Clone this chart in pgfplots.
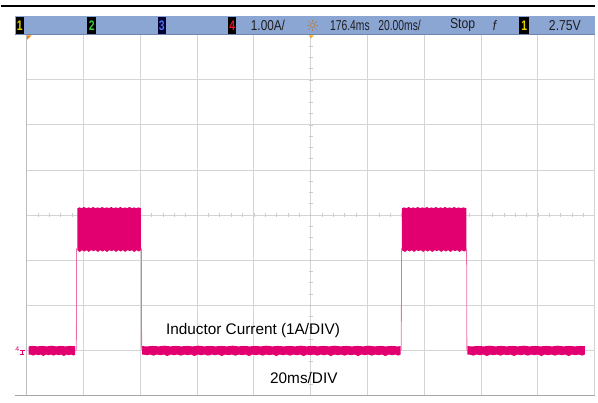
\documentclass[border=0pt]{standalone}
\usepackage{fontspec}
\setmainfont{Liberation Sans}
\usepackage{pgfplots}
\pgfplotsset{compat=1.18}
\definecolor{trace}{RGB}{226,0,112}
\definecolor{tracelt}{RGB}{238,110,172}
\definecolor{gridc}{RGB}{212,212,212}
\definecolor{barblue}{RGB}{140,166,212}
\definecolor{hdrtxt}{RGB}{30,30,30}
\begin{document}
\begin{tikzpicture}
% pixel frame (y downwards)
\begin{scope}[x=1bp,y=-1bp]
\path[use as bounding box] (0,0) rectangle (598,400);
\coordinate (ax) at (26,398);
\end{scope}

\begin{axis}[
    at={(ax)}, anchor=south west,
    scale only axis, width=572bp, height=363bp,
    xmin=0, xmax=200, ymin=-1, ymax=7,
    xtick={0,20,...,200}, ytick={-1,0,1,2,4,5,6,7},
    xticklabels={}, yticklabels={},
    major tick length=0pt,
    grid=major,
    grid style={gridc, line width=0.9bp},
    axis line style={draw=none},
]
% centre lines with small division ticks
\draw[gridc, line width=0.9bp] (axis cs:0,3) -- (axis cs:200,3);
\pgfplotsinvokeforeach{4,8,...,196}{
  \draw[gridc!80!black!60, line width=0.6bp] (axis cs:#1,2.96) -- (axis cs:#1,3.04);
}
\pgfplotsinvokeforeach{-0.75,-0.5,...,6.75}{
  \draw[gridc!80!black!60, line width=0.6bp] (axis cs:99.3,#1) -- (axis cs:100.7,#1);
}
% left screen edge
\draw[gray!85, line width=1.3bp] (axis cs:0,-1) -- (axis cs:0,7);

% baseline segments (noise band around 0 A)
\addplot[draw=none, fill=trace] coordinates {
(0.7,0.085)(2.2,0.095)(3.8,0.085)(5.5,0.095)(7.1,0.085)(8.8,0.1)(10.4,0.085)(12.0,0.095)(13.7,0.085)(15.3,0.095)(17.1,0.09)
(17.1,-0.095)(16.5,-0.12)(15.8,-0.095)(14.9,-0.11)(14.0,-0.095)(13.1,-0.13)(12.2,-0.095)(11.3,-0.11)(10.4,-0.095)(9.5,-0.12)(8.6,-0.095)(7.7,-0.11)(6.8,-0.095)(5.9,-0.13)(5.0,-0.095)(4.1,-0.11)(3.2,-0.095)(2.3,-0.12)(1.4,-0.095)(0.7,-0.1)
};
\addplot[draw=none, fill=trace] coordinates {
(40.7,0.09)(42.5,0.085)(44.5,0.095)(46.5,0.085)(48.5,0.1)(50.5,0.085)(52.5,0.095)(54.5,0.085)(56.5,0.095)(58.5,0.085)(60.5,0.1)(62.5,0.085)(64.5,0.095)(66.5,0.085)(68.5,0.095)(70.5,0.085)(72.5,0.1)(74.5,0.085)(76.5,0.095)(78.5,0.085)(80.5,0.095)(82.5,0.085)(84.5,0.1)(86.5,0.085)(88.5,0.095)(90.5,0.085)(92.5,0.095)(94.5,0.085)(96.5,0.1)(98.5,0.085)(100.5,0.095)(102.5,0.085)(104.5,0.095)(106.5,0.085)(108.5,0.1)(110.5,0.085)(112.5,0.095)(114.5,0.085)(116.5,0.095)(118.5,0.085)(120.5,0.1)(122.5,0.085)(124.5,0.095)(126.5,0.085)(128.5,0.095)(130.5,0.085)(131.7,0.09)
(131.7,-0.095)(130.8,-0.12)(129.9,-0.095)(128.7,-0.11)(127.5,-0.095)(126.3,-0.13)(125.1,-0.095)(123.9,-0.11)(122.7,-0.095)(121.5,-0.12)(120.3,-0.095)(119.1,-0.11)(117.9,-0.095)(116.7,-0.13)(115.5,-0.095)(114.3,-0.11)(113.1,-0.095)(111.9,-0.12)(110.7,-0.095)(109.5,-0.11)(108.3,-0.095)(107.1,-0.13)(105.9,-0.095)(104.7,-0.11)(103.5,-0.095)(102.3,-0.12)(101.1,-0.095)(99.9,-0.11)(98.7,-0.095)(97.5,-0.13)(96.3,-0.095)(95.1,-0.11)(93.9,-0.095)(92.7,-0.12)(91.5,-0.095)(90.3,-0.11)(89.1,-0.095)(87.9,-0.13)(86.7,-0.095)(85.5,-0.11)(84.3,-0.095)(83.1,-0.12)(81.9,-0.095)(80.7,-0.11)(79.5,-0.095)(78.3,-0.13)(77.1,-0.095)(75.9,-0.11)(74.7,-0.095)(73.5,-0.12)(72.3,-0.095)(71.1,-0.11)(69.9,-0.095)(68.7,-0.13)(67.5,-0.095)(66.3,-0.11)(65.1,-0.095)(63.9,-0.12)(62.7,-0.095)(61.5,-0.11)(60.3,-0.095)(59.1,-0.13)(57.9,-0.095)(56.7,-0.11)(55.5,-0.095)(54.3,-0.12)(53.1,-0.095)(51.9,-0.11)(50.7,-0.095)(49.5,-0.13)(48.3,-0.095)(47.1,-0.11)(45.9,-0.095)(44.7,-0.12)(43.5,-0.095)(42.3,-0.11)(41.1,-0.095)(40.7,-0.1)
};
\addplot[draw=none, fill=trace] coordinates {
(155.2,0.09)(157,0.085)(159,0.095)(161,0.085)(163,0.1)(165,0.085)(167,0.095)(169,0.085)(171,0.095)(173,0.085)(175,0.1)(177,0.085)(179,0.095)(181,0.085)(183,0.095)(185,0.085)(187,0.1)(189,0.085)(191,0.095)(193,0.085)(195,0.095)(196.5,0.09)
(196.5,-0.095)(195.6,-0.12)(194.4,-0.095)(193.2,-0.11)(192,-0.095)(190.8,-0.13)(189.6,-0.095)(188.4,-0.11)(187.2,-0.095)(186,-0.12)(184.8,-0.095)(183.6,-0.11)(182.4,-0.095)(181.2,-0.13)(180,-0.095)(178.8,-0.11)(177.6,-0.095)(176.4,-0.12)(175.2,-0.095)(174,-0.11)(172.8,-0.095)(171.6,-0.13)(170.4,-0.095)(169.2,-0.11)(168,-0.095)(166.8,-0.12)(165.6,-0.095)(164.4,-0.11)(163.2,-0.095)(162,-0.13)(160.8,-0.095)(159.6,-0.11)(158.4,-0.095)(157.2,-0.12)(156,-0.095)(155.2,-0.1)
};

% on-phases (ripple band between about 2.2 A and 3.15 A)
\addplot[draw=none, fill=trace] coordinates {
(17.9,3.15)(18.6,3.17)(19.4,3.15)(20.2,3.18)(21.0,3.15)(21.8,3.17)(22.6,3.15)(23.4,3.18)(24.2,3.15)(25.0,3.17)(25.8,3.15)(26.6,3.18)(27.4,3.15)(28.2,3.17)(29.0,3.15)(29.8,3.18)(30.6,3.15)(31.4,3.17)(32.2,3.15)(33.0,3.18)(33.8,3.15)(34.6,3.17)(35.4,3.15)(36.2,3.18)(37.0,3.15)(37.8,3.17)(38.6,3.15)(39.4,3.17)(40.2,3.15)
(40.2,2.22)(39.5,2.19)(38.7,2.22)(37.9,2.18)(37.1,2.22)(36.3,2.2)(35.5,2.22)(34.7,2.18)(33.9,2.22)(33.1,2.19)(32.3,2.22)(31.5,2.18)(30.7,2.22)(29.9,2.2)(29.1,2.22)(28.3,2.18)(27.5,2.22)(26.7,2.19)(25.9,2.22)(25.1,2.18)(24.3,2.22)(23.5,2.2)(22.7,2.22)(21.9,2.18)(21.1,2.22)(20.3,2.19)(19.5,2.22)(18.7,2.18)(17.9,2.22)
};
\addplot[draw=none, fill=trace] coordinates {
(132.1,3.15)(132.9,3.17)(133.7,3.15)(134.5,3.18)(135.3,3.15)(136.1,3.17)(136.9,3.15)(137.7,3.18)(138.5,3.15)(139.3,3.17)(140.1,3.15)(140.9,3.18)(141.7,3.15)(142.5,3.17)(143.3,3.15)(144.1,3.18)(144.9,3.15)(145.7,3.17)(146.5,3.15)(147.3,3.18)(148.1,3.15)(148.9,3.17)(149.7,3.15)(150.5,3.18)(151.3,3.15)(152.1,3.17)(152.9,3.15)(153.7,3.17)(154.8,3.15)
(154.8,2.22)(154.0,2.19)(153.2,2.22)(152.4,2.18)(151.6,2.22)(150.8,2.2)(150.0,2.22)(149.2,2.18)(148.4,2.22)(147.6,2.19)(146.8,2.22)(146.0,2.18)(145.2,2.22)(144.4,2.2)(143.6,2.22)(142.8,2.18)(142.0,2.22)(141.2,2.19)(140.4,2.22)(139.6,2.18)(138.8,2.22)(138.0,2.2)(137.2,2.22)(136.4,2.18)(135.6,2.22)(134.8,2.19)(134.0,2.22)(133.2,2.18)(132.1,2.22)
};

% switching edges
\addplot[tracelt, line width=0.8bp] coordinates {(17.1,0)(17.5,0)(17.6,2.25)(17.9,2.25)};
\addplot[tracelt, line width=0.8bp] coordinates {(40.2,2.25)(40.4,2.25)(40.5,0)(40.7,0)};
\addplot[tracelt, line width=0.8bp] coordinates {(131.7,0)(131.9,0)(132.0,2.25)(132.1,2.25)};
\addplot[tracelt, line width=0.8bp] coordinates {(154.8,2.25)(154.9,2.25)(155.0,0)(155.2,0)};

\node[font=\fontsize{15.5}{18}\selectfont, text=black] at (axis cs:79.7,0.44) {Inductor Current (1A/DIV)};
\node[font=\fontsize{15.5}{18}\selectfont, text=black] at (axis cs:97.6,-0.62) {20ms/DIV};
\end{axis}

% header bar of the scope screen
\begin{scope}[x=1bp,y=-1bp]
\draw[black, line width=1.6bp] (0,6) -- (598,6);
\fill[barblue] (14,16) rectangle (598,35);
\draw[barblue!80!black, line width=0.6bp] (14,35) -- (598,35);
\draw[black!35, line width=0.8bp] (14,398.5) -- (598,398.5);
% channel keys
\fill[black] (15,17) rectangle (23,34);
\node[font=\fontsize{14}{14}\selectfont\bfseries, text={rgb,255:red,235;green,210;blue,0}] at (19,25.5) {\scalebox{0.75}[1]{1}};
\fill[black] (87,17) rectangle (96,34);
\node[font=\fontsize{14}{14}\selectfont\bfseries, text={rgb,255:red,60;green,200;blue,60}] at (91.5,25.5) {\scalebox{0.75}[1]{2}};
\fill[black!80!blue] (158,17) rectangle (166,34);
\node[font=\fontsize{14}{14}\selectfont\bfseries, text={rgb,255:red,80;green,110;blue,230}] at (162,25.5) {\scalebox{0.75}[1]{3}};
\fill[black] (229,17) rectangle (237,34);
\node[font=\fontsize{14}{14}\selectfont\bfseries, text={rgb,255:red,235;green,20;blue,40}] at (233,25.5) {\scalebox{0.75}[1]{4}};
\node[font=\fontsize{14.5}{14.5}\selectfont, text=hdrtxt] at (269,25.5) {\scalebox{0.82}[1]{1.00A/}};
% brightness icon
\draw[brown!70!gray, line width=0.6bp] (314,25.5) circle (2.3);
\foreach \ang in {0,45,...,315} {
  \draw[brown!70!gray, line width=0.6bp] (314,25.5) ++(\ang:3.4) -- ++(\ang:2.4);
}
\node[font=\fontsize{14.5}{14.5}\selectfont, text=hdrtxt] at (351.5,25.5) {\scalebox{0.72}[1]{176.4ms}};
\node[font=\fontsize{14.5}{14.5}\selectfont, text=hdrtxt] at (401.5,25.5) {\scalebox{0.72}[1]{20.00ms/}};
\node[font=\fontsize{14.5}{14.5}\selectfont, text=hdrtxt] at (465,25.5) {\scalebox{0.85}[1]{Stop}};
\node[font=\fontsize{14}{14}\selectfont\itshape, text=hdrtxt] at (497,25.5) {\scalebox{0.85}[1]{f}};
\fill[black] (522,17) rectangle (532,34);
\node[font=\fontsize{14}{14}\selectfont\bfseries, text={rgb,255:red,235;green,210;blue,0}] at (527,25.5) {\scalebox{0.75}[1]{1}};
\node[font=\fontsize{14.5}{14.5}\selectfont, text=hdrtxt] at (568,25.5) {\scalebox{0.85}[1]{2.75V}};
% trigger / time markers
\fill[orange] (26.5,35.5) -- (31,35.5) -- (26.5,40) -- cycle;
\fill[orange!70!yellow] (310,35.5) -- (315,35.5) -- (312.5,38.5) -- cycle;
% ground marker of channel 4
\node[font=\fontsize{7}{7}\selectfont, text=trace] at (16.5,351.5) {4};
\draw[trace, line width=0.6bp] (19.5,352.5) -- (24,352.5);
\draw[trace, line width=0.6bp] (21.5,352.5) -- (21.5,356.5) (19.5,356.5) -- (23.5,356.5);
\end{scope}
\end{tikzpicture}
\end{document}
